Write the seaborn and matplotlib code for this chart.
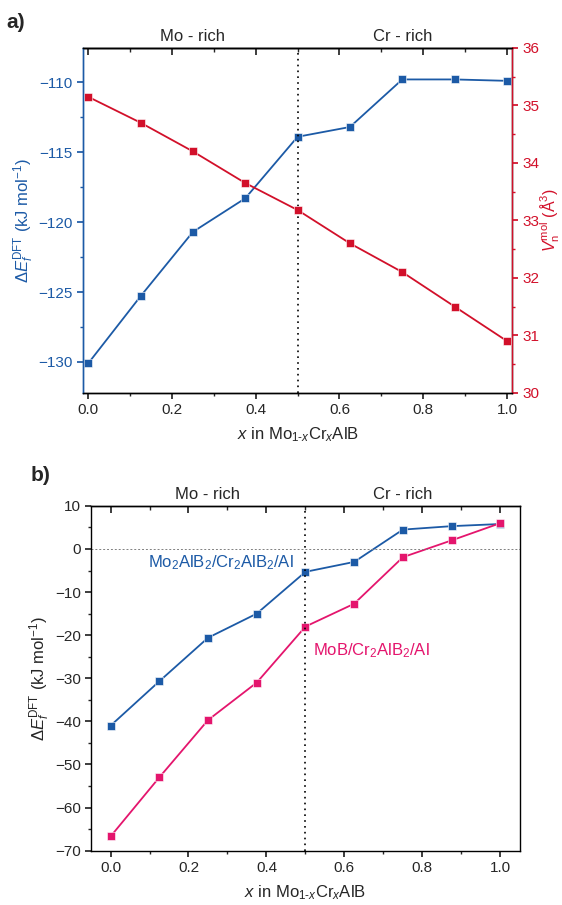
"""Mo1-xCrxAlB: formation energy and molar volume vs. Cr content."""

import matplotlib.pyplot as plt
import pandas as pd
import seaborn as sns
from matplotlib.ticker import MultipleLocator

# --- data ---
x_frac = [0.0, 0.125, 0.25, 0.375, 0.5, 0.625, 0.75, 0.875, 1.0]

# panel a)
e_form = [-130.1, -125.3, -120.7, -118.3, -113.9, -113.2, -109.8, -109.8, -109.9]
v_mol = [35.15, 34.70, 34.20, 33.65, 33.18, 32.60, 32.10, 31.50, 30.90]

# panel b)
e_mo2alb2 = [-41.0, -30.7, -20.6, -15.0, -5.3, -3.0, 4.5, 5.3, 5.8]
e_mob = [-66.7, -53.0, -39.7, -31.0, -18.0, -12.7, -1.9, 2.0, 6.0]

BLUE = "#1c5aa6"
RED = "#d2102a"
PINK = "#e4156d"

sns.set_theme(style="ticks")
plt.rcParams["font.family"] = ["Liberation Sans", "DejaVu Sans"]
plt.rcParams["mathtext.fontset"] = "custom"
plt.rcParams["mathtext.rm"] = "Liberation Sans"
plt.rcParams["mathtext.it"] = "Liberation Sans:italic"
plt.rcParams["font.size"] = 11

df_a = pd.DataFrame({"x": x_frac, "E": e_form, "V": v_mol})
df_b = pd.DataFrame({"x": x_frac * 2,
                     "E": e_mo2alb2 + e_mob,
                     "route": ["Mo2AlB2"] * 9 + ["MoB"] * 9})

fig = plt.figure(figsize=(5.62, 9.05), dpi=100)
ax1 = fig.add_axes([0.148, 0.566, 0.763, 0.381])
ax3 = fig.add_axes([0.162, 0.060, 0.763, 0.381])

mk = dict(marker="s", markersize=6, linewidth=1.3, markeredgecolor="white",
          markeredgewidth=0.4)


def top_ticks(ax):
    # mirrored x ticks on the top spine, pointing into the plot
    sec = ax.secondary_xaxis("top")
    sec.xaxis.set_major_locator(MultipleLocator(0.2))
    sec.xaxis.set_minor_locator(MultipleLocator(0.1))
    sec.tick_params(which="both", direction="in", labeltop=False)
    sec.tick_params(which="major", length=5)
    sec.tick_params(which="minor", length=3)
    sec.spines["top"].set_linewidth(1.0)
    sec.spines["top"].set_color("black")


# === panel a) ===
sns.lineplot(data=df_a, x="x", y="E", ax=ax1, color=BLUE, **mk)
ax2 = ax1.twinx()
sns.lineplot(data=df_a, x="x", y="V", ax=ax2, color=RED, **mk)

ax1.set_xlim(-0.012, 1.012)
ax1.set_ylim(-132.2, -107.55)
ax2.set_ylim(30, 36)
ax1.axvline(0.5, color="black", linestyle=(0, (1, 2.5)), linewidth=1.2)

ax1.xaxis.set_major_locator(MultipleLocator(0.2))
ax1.xaxis.set_minor_locator(MultipleLocator(0.1))
ax1.yaxis.set_major_locator(MultipleLocator(5))
ax1.yaxis.set_minor_locator(MultipleLocator(2.5))
ax2.yaxis.set_major_locator(MultipleLocator(1))
ax2.yaxis.set_minor_locator(MultipleLocator(0.5))

ax1.tick_params(axis="x", which="major", length=4)
ax1.tick_params(axis="x", which="minor", length=2.5)
ax1.tick_params(axis="y", which="both", colors=BLUE, labelcolor=BLUE)
ax1.tick_params(axis="y", which="major", length=4)
ax1.tick_params(axis="y", which="minor", length=2.5)
ax2.tick_params(axis="y", which="both", colors=RED, labelcolor=RED)
ax2.tick_params(axis="y", which="major", length=4)
ax2.tick_params(axis="y", which="minor", length=2.5)
for a in (ax1, ax2):
    for s in a.spines.values():
        s.set_linewidth(1.0)
        s.set_color("black")
ax2.spines["left"].set_color(BLUE)
ax2.spines["right"].set_color(RED)
ax1.spines["left"].set_color(BLUE)
top_ticks(ax1)

ax1.set_xlabel(r"$x$ in Mo$_{1\text{-}x}$Cr$_x$AlB", fontsize=12, labelpad=6)
ax1.set_ylabel(r"$\Delta E_f^{\rm DFT}$ (kJ mol$^{-1}$)", color=BLUE,
               fontsize=12, labelpad=2)
ax2.set_ylabel(r"$V_{\rm n}^{\rm mol}$ ($\rm\AA^3$)", color=RED,
               fontsize=11.5, labelpad=-1)

ax1.text(0.25, 1.012, "Mo - rich", transform=ax1.get_xaxis_transform(),
         ha="center", va="bottom", fontsize=12)
ax1.text(0.75, 1.012, "Cr - rich", transform=ax1.get_xaxis_transform(),
         ha="center", va="bottom", fontsize=12)
fig.text(0.012, 0.975, "a)", fontsize=15, fontweight="bold", va="center")

# === panel b) ===
sns.lineplot(data=df_b, x="x", y="E", hue="route", ax=ax3,
             palette={"Mo2AlB2": BLUE, "MoB": PINK}, legend=False, **mk)
ax3.set_xlim(-0.05, 1.05)
ax3.set_ylim(-70, 10)
ax3.axhline(0, color="gray", linestyle=(0, (2, 2)), linewidth=0.7)
ax3.axvline(0.5, color="black", linestyle=(0, (1, 2.5)), linewidth=1.2)

ax3.xaxis.set_major_locator(MultipleLocator(0.2))
ax3.xaxis.set_minor_locator(MultipleLocator(0.1))
ax3.yaxis.set_major_locator(MultipleLocator(10))
ax3.yaxis.set_minor_locator(MultipleLocator(5))
ax3.tick_params(axis="x", which="major", length=4)
ax3.tick_params(axis="x", which="minor", length=2.5)
ax3.tick_params(axis="y", which="major", length=4)
ax3.tick_params(axis="y", which="minor", length=2.5)
for s in ax3.spines.values():
    s.set_visible(True)
    s.set_linewidth(1.0)
    s.set_color("black")
top_ticks(ax3)

ax3.set_xlabel(r"$x$ in Mo$_{1\text{-}x}$Cr$_x$AlB", fontsize=12, labelpad=6)
ax3.set_ylabel(r"$\Delta E_f^{\rm DFT}$ (kJ mol$^{-1}$)", fontsize=12,
               labelpad=2)

ax3.text(0.47, -3.2, r"Mo$_2$AlB$_2$/Cr$_2$AlB$_2$/Al", color=BLUE,
         ha="right", va="center", fontsize=12)
ax3.text(0.52, -23.5, r"MoB/Cr$_2$AlB$_2$/Al", color=PINK,
         ha="left", va="center", fontsize=12)
ax3.text(0.25, 1.012, "Mo - rich", transform=ax3.get_xaxis_transform(),
         ha="center", va="bottom", fontsize=12)
ax3.text(0.75, 1.012, "Cr - rich", transform=ax3.get_xaxis_transform(),
         ha="center", va="bottom", fontsize=12)
fig.text(0.055, 0.475, "b)", fontsize=15, fontweight="bold", va="center")

fig.savefig("out.png", dpi=100)
